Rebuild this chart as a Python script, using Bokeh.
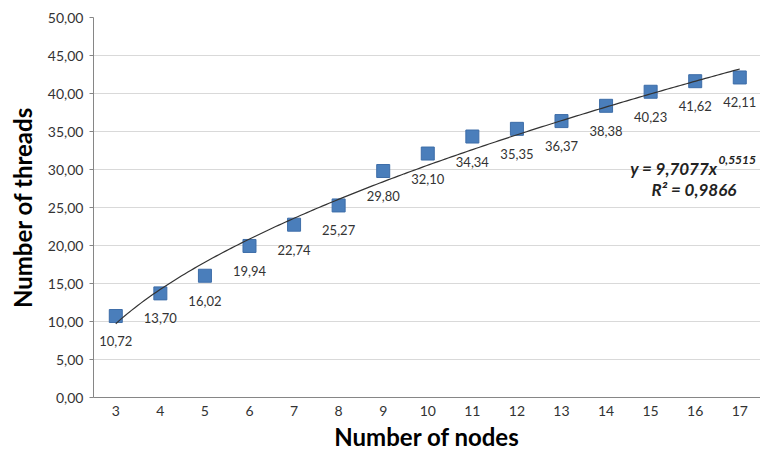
import numpy as np
from bokeh.plotting import figure
from bokeh.models import Label, ColumnDataSource, FixedTicker, Range1d
from bokeh.core.properties import value
from bokeh.embed import file_html
from bokeh.resources import INLINE

# ---- data ----
nodes = [3, 4, 5, 6, 7, 8, 9, 10, 11, 12, 13, 14, 15, 16, 17]
threads = [10.72, 13.70, 16.02, 19.94, 22.74, 25.27, 29.80, 32.10,
           34.34, 35.35, 36.37, 38.38, 40.23, 41.62, 42.11]
y_ticks = [0, 5, 10, 15, 20, 25, 30, 35, 40, 45, 50]
y_tick_labels = ["0,00", "5,00", "10,00", "15,00", "20,00", "25,00",
                 "30,00", "35,00", "40,00", "45,00", "50,00"]
x_title = "Number of nodes"
y_title = "Number of threads"
fit_a = 9.7077   # power trend line y = a * k^b (k = point index, 1-based)
fit_b = 0.5515
fit_r2 = 0.9866

FONT = "Lato"
data_labels = [f"{v:.2f}".replace(".", ",") for v in threads]

p = figure(width=760, height=454,
           x_range=Range1d(2.5, 17.465), y_range=Range1d(0, 50),
           output_backend="svg", toolbar_location=None,
           min_border_left=93, min_border_right=0,
           min_border_top=17, min_border_bottom=57)
p.outline_line_color = None
p.background_fill_color = "white"
p.border_fill_color = "white"

p.xgrid.visible = False
p.ygrid.grid_line_color = "#D9D9D9"
p.ygrid.grid_line_width = 1

p.xaxis.ticker = FixedTicker(ticks=nodes)
p.xaxis.major_tick_out = 0
p.xaxis.major_tick_in = 0
p.xaxis.minor_tick_line_color = None
p.xaxis.axis_line_color = "#868686"
p.xaxis.major_label_standoff = 8
p.xaxis.major_label_text_font = FONT
p.xaxis.major_label_text_font_size = "14px"
p.xaxis.major_label_text_color = "#333333"
p.xaxis.axis_label = x_title
p.xaxis.axis_label_standoff = 3
p.xaxis.axis_label_text_font = FONT
p.xaxis.axis_label_text_font_style = "bold"
p.xaxis.axis_label_text_font_size = "24px"
p.xaxis.axis_label_text_color = "#000000"

p.yaxis.ticker = FixedTicker(ticks=y_ticks)
p.yaxis.major_label_overrides = {t: s for t, s in zip(y_ticks, y_tick_labels)}
p.yaxis.major_tick_out = 4
p.yaxis.major_tick_in = 0
p.yaxis.major_tick_line_color = "#868686"
p.yaxis.minor_tick_line_color = None
p.yaxis.axis_line_color = "#868686"
p.yaxis.major_label_standoff = 6
p.yaxis.major_label_text_font = FONT
p.yaxis.major_label_text_font_size = "14px"
p.yaxis.major_label_text_color = "#333333"
p.yaxis.axis_label = y_title
p.yaxis.axis_label_standoff = 8
p.yaxis.axis_label_text_font = FONT
p.yaxis.axis_label_text_font_style = "bold"
p.yaxis.axis_label_text_font_size = "24px"
p.yaxis.axis_label_text_color = "#000000"

src = ColumnDataSource(dict(x=nodes, y=threads, lab=data_labels))

p.scatter("x", "y", source=src, marker="square", size=13,
          fill_color="#4A7EBB", line_color="#3D6DA8", line_width=1)

# trend line from the displayed fit equation
xs = np.linspace(nodes[0], nodes[-1], 200)
ys = fit_a * (xs - nodes[0] + 1) ** fit_b
p.line(xs, ys, line_color="#333333", line_width=1.2)

p.text("x", "y", text="lab", source=src, text_align="center",
       text_baseline="middle", y_offset=25,
       text_font=value(FONT), text_font_size="13px", text_color="#333333")

# equation labels
eq_main = f"y = {fit_a:.4f}x".replace(".", ",")
eq_sup = f"{fit_b:.4f}".replace(".", ",")
eq_r2 = f"R² = {fit_r2:.4f}".replace(".", ",")

p.add_layout(Label(x=16.5, y=30.13, text=eq_main, text_align="right",
                   text_baseline="middle", text_font=FONT,
                   text_font_style="bold italic", text_font_size="17px",
                   text_color="#222222"))
p.add_layout(Label(x=16.52, y=31.2, text=eq_sup, text_align="left",
                   text_baseline="middle", text_font=FONT,
                   text_font_style="bold italic", text_font_size="12px",
                   text_color="#222222"))
p.add_layout(Label(x=15.97, y=27.37, text=eq_r2, text_align="center",
                   text_baseline="middle", text_font=FONT,
                   text_font_style="bold italic", text_font_size="17px",
                   text_color="#222222"))

open("out.html", "w").write(file_html(p, INLINE))
